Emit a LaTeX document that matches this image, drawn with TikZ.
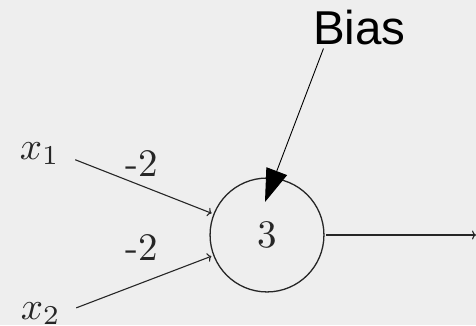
\documentclass[tikz,border=0pt]{standalone}
\usepackage{amsmath}
\usepackage{fontspec}
\usepackage{tikz}
\usetikzlibrary{arrows.meta}
\usepackage{xcolor}
\definecolor{bggray}{HTML}{EEEEEE}
\definecolor{inkgray}{HTML}{262626}
\newfontfamily\biasfont{Liberation Sans}

\begin{document}
\begin{tikzpicture}[x=1pt, y=1pt, >={To[length=4pt,width=9pt]}, every node/.style={scale=3.9, text=inkgray}]
\tikzstyle{neuron}=[circle, draw=inkgray, line width=1.3pt, minimum size=29.2pt, inner sep=0pt]
\tikzstyle{wire}=[->, draw=inkgray, line width=1.1pt]
\fill[bggray] (0,0) rectangle (476,325);
\useasboundingbox (0,0) rectangle (476,325);
\node[neuron] (neuron) at (267,90) {3};
\node[anchor=base west] (x1) at (6,166) {$x_1$};
\node[anchor=base west] (x2) at (7,6) {$x_2$};
\node (w1) at (142,161) {-2};
\node (w2) at (142,77) {-2};
\node[anchor=base west, inner sep=0.85pt, font=\biasfont\fontsize{12.18}{14}\selectfont, text=black] (bias) at (309,281) {Bias};
\coordinate (out) at (476,90);
\coordinate (biastip) at (265,123);
\draw[wire, shorten <=2pt] (x1.base east) -- (neuron);
\draw[wire, shorten <=2pt] ([yshift=2pt]x2.mid east) -- (neuron);
\draw[wire] (neuron) -- (out);
\draw[-{Triangle[length=33pt,width=22pt]}, line width=0.9pt] (bias.211) -- (biastip);
\end{tikzpicture}
\end{document}
